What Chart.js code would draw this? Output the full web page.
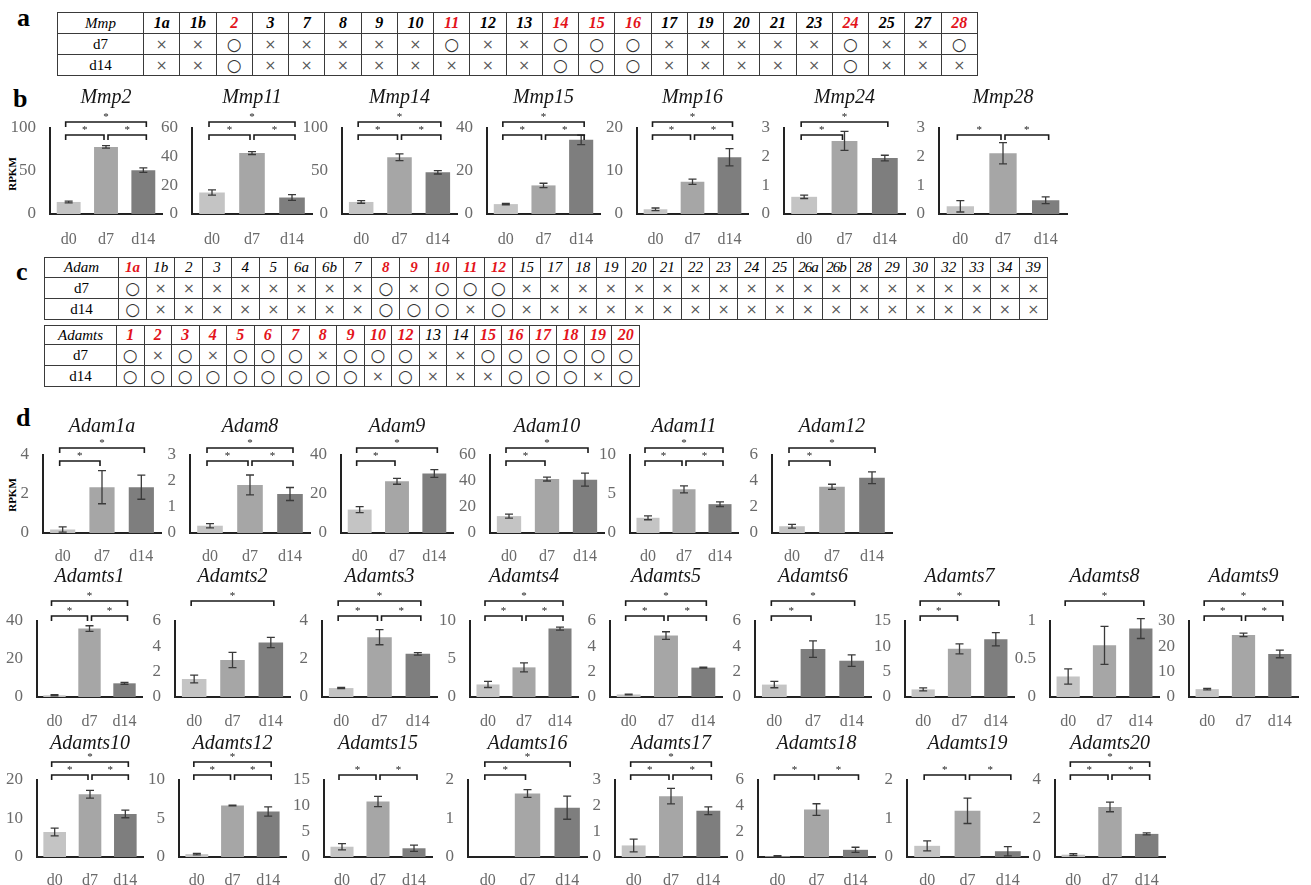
<!DOCTYPE html>
<html lang="en">
<head>
<meta charset="UTF-8">
<title>Mmp / Adam / Adamts RPKM</title>
<style>
  html, body { margin: 0; padding: 0; background: #fff; overflow: hidden; }
  body { width: 1311px; height: 885px; position: relative; font-family: "Liberation Serif", "Times New Roman", serif; }
  .panel { position: absolute; font-weight: bold; font-size: 26px; line-height: 1; }
  .rpkm { position: absolute; font-weight: bold; font-size: 11px; transform: translate(-50%, -50%) rotate(-90deg); white-space: nowrap; }
  table.grid { position: absolute; border-collapse: collapse; table-layout: fixed; }
  table.grid td { border: 1.5px solid #3a3a3a; padding: 0; text-align: center; vertical-align: middle; white-space: nowrap; overflow: visible; }
  .hd { font-style: italic; }
  .red { color: #e3131b; font-weight: bold; }
  .x { font-family: "DejaVu Sans", sans-serif; font-size: 14px; color: #555; }
  .o { font-family: "DejaVu Sans", sans-serif; font-size: 17px; color: #333; }
  canvas { position: absolute; }
</style>
<script src="https://cdn.jsdelivr.net/npm/chart.js"></script>
</head>
<body>

<div class="panel" style="left:17px; top:5px;">a</div>
<div class="panel" style="left:13px; top:86px;">b</div>
<div class="panel" style="left:16px; top:259px;">c</div>
<div class="panel" style="left:16px; top:405px;">d</div>
<div class="rpkm" style="left:12px; top:174px;">RPKM</div>
<div class="rpkm" style="left:12px; top:495px;">RPKM</div>

<script>
// ---------- data ----------
const days = ['d0', 'd7', 'd14'];

// table a : Mmp family ('o' = changed, 'x' = not changed)
const mmpCols = ['1a','1b','2','3','7','8','9','10','11','12','13','14','15','16','17','19','20','21','23','24','25','27','28'];
const mmpD7  = 'xxoxxxxxoxxoooxxxxxoxxo';
const mmpD14 = 'xxoxxxxxxxxoooxxxxxoxxx';

// table c : Adam and Adamts families
const adamCols = ['1a','1b','2','3','4','5','6a','6b','7','8','9','10','11','12','15','17','18','19','20','21','22','23','24','25','26a','26b','28','29','30','32','33','34','39'];
const adamD7  = 'oxxxxxxxxoxoooxxxxxxxxxxxxxxxxxxx';
const adamD14 = 'oxxxxxxxxoooxoxxxxxxxxxxxxxxxxxxx';
const adamtsCols = ['1','2','3','4','5','6','7','8','9','10','12','13','14','15','16','17','18','19','20'];
const adamtsD7  = 'oxoxoooxoooxxoooooo';
const adamtsD14 = 'oooooooooxoxxxoooxo';

// panel b : Mmp RPKM (d0, d7, d14) with error
const mmpNames = ['Mmp2','Mmp11','Mmp14','Mmp15','Mmp16','Mmp24','Mmp28'];
const mmpMean  = [[14,78,51],[15,42.5,11.5],[14,66,48.5],[4.6,13.3,34.5],[1.1,7.5,13.2],[0.6,2.55,1.95],[0.27,2.12,0.48]];
const mmpErr   = [[1,1.5,2.7],[1.8,1,2],[1.5,4,2],[0.3,1,2.2],[0.3,0.6,2],[0.06,0.33,0.1],[0.2,0.37,0.12]];
const mmpMax   = [100,60,100,40,20,3,3];
const mmpStep  = [50,20,50,20,10,1,1];
const mmpSig   = [['01','12','02'],['01','12','02'],['01','12','02'],['01','12','02'],['01','12','02'],['01','02'],['01','12']];

// panel d, first row : Adam
const adamNames = ['Adam1a','Adam8','Adam9','Adam10','Adam11','Adam12'];
const adamMean  = [[0.18,2.35,2.35],[0.28,1.85,1.5],[12,26.5,30.5],[13,41.5,41],[1.95,5.6,3.7],[0.52,3.55,4.25]];
const adamErr   = [[0.13,0.85,0.62],[0.08,0.38,0.25],[1.5,1.5,2],[1.5,1.5,5],[0.25,0.45,0.3],[0.15,0.2,0.45]];
const adamMax   = [4,3,40,60,10,6];
const adamStep  = [2,1,20,20,5,2];
const adamSig   = [['01','02'],['01','12','02'],['01','02'],['01','02'],['01','12','02'],['01','02']];

// panel d, second row : Adamts1-9
const ts1Names = ['Adamts1','Adamts2','Adamts3','Adamts4','Adamts5','Adamts6','Adamts7','Adamts8','Adamts9'];
const ts1Mean  = [[0.9,36,7.2],[1.42,2.92,4.3],[0.47,3.15,2.27],[1.65,3.9,9],[0.2,4.85,2.32],[0.98,3.78,2.87],[1.5,9.5,11.4],[0.27,0.68,0.9],[3.1,24.5,17]];
const ts1Err   = [[0.3,1.5,0.5],[0.3,0.6,0.4],[0.03,0.4,0.07],[0.4,0.6,0.2],[0.03,0.3,0.03],[0.25,0.65,0.45],[0.3,1,1.3],[0.1,0.25,0.13],[0.3,0.7,1.5]];
const ts1Max   = [40,6,4,10,6,6,15,1,30];
const ts1Step  = [20,2,2,5,2,2,5,0.5,10];
const ts1Sig   = [['01','12','02'],['02'],['01','12','02'],['01','12','02'],['01','12','02'],['01','02'],['01','02'],['02'],['01','12','02']];

// panel d, third row : Adamts10-20
const ts2Names = ['Adamts10','Adamts12','Adamts15','Adamts16','Adamts17','Adamts18','Adamts19','Adamts20'];
const ts2Mean  = [[6.5,16.3,11.2],[0.37,6.7,5.9],[2,10.8,1.7],[0,1.65,1.28],[0.45,2.37,1.8],[0.05,3.7,0.56],[0.29,1.2,0.15],[0.12,2.6,1.2]];
const ts2Err   = [[1,1,1],[0.1,0.05,0.6],[0.6,1,0.6],[0,0.1,0.3],[0.25,0.3,0.15],[0.05,0.45,0.2],[0.13,0.33,0.12],[0.05,0.25,0.05]];
const ts2Max   = [20,10,15,2,3,6,2,4];
const ts2Step  = [10,5,5,1,1,2,1,2];
const ts2Sig   = [['01','12','02'],['01','12','02'],['01','12'],['01','02'],['01','12','02'],['01','12'],['01','12'],['01','12','02']];

// ---------- layout ----------
const SERIF = '"Liberation Serif", "Times New Roman", serif';
const barColors = ['#c4c4c4', '#a6a6a6', '#7e7e7e'];
const darkD7 = ['Adamts6'];
const X_AXIS_H = 34;

const rowB  = { titleY: 98,  topY: 128, zeroY: 214, up: -6,  low: 7,  pad: 8 };
const rowD1 = { titleY: 427, topY: 455, zeroY: 533, up: -7,  low: 6,  pad: 6 };
const rowD2 = { titleY: 577, topY: 621, zeroY: 697, up: -20, low: -5, pad: 7 };
const rowD3 = { titleY: 744, topY: 780, zeroY: 857, up: -18, low: -5, pad: 6 };

const xB  = [[50,162],[192,312],[342,457],[487,600],[637,748],[784,905],[939,1067]];
const xD1 = [[43,161],[190,310],[341,453],[490,604],[630,738],[772,892]];
const xD2 = [[37,142],[175,290],[322,437],[470,578],[610,722],[755,871],[905,1014],[1050,1159],[1189,1298]];
const xD3 = [[37,143],[179,286],[324,432],[468,587],[615,727],[758,875],[907,1028],[1055,1165]];

// error bars + significance brackets
const marks = {
    id: 'marks',
    afterDatasetsDraw(chart, args, opts) {
        const ctx = chart.ctx;
        const meta = chart.getDatasetMeta(0);
        const ys = chart.scales.y;
        const vals = chart.data.datasets[0].data;
        const cx = meta.data.map(b => b.x);
        ctx.save();
        ctx.strokeStyle = '#3a3a3a';
        ctx.lineWidth = 1.3;
        vals.forEach((v, i) => {
            const e = opts.err[i];
            if (!e) return;
            const a = ys.getPixelForValue(v - e), b = ys.getPixelForValue(v + e);
            ctx.beginPath();
            ctx.moveTo(cx[i], a); ctx.lineTo(cx[i], b);
            ctx.moveTo(cx[i] - 4, a); ctx.lineTo(cx[i] + 4, a);
            ctx.moveTo(cx[i] - 4, b); ctx.lineTo(cx[i] + 4, b);
            ctx.stroke();
        });
        const top = chart.chartArea.top;
        ctx.strokeStyle = '#1a1a1a';
        ctx.fillStyle = '#1a1a1a';
        ctx.lineWidth = 1.6;
        ctx.font = '11px ' + SERIF;
        ctx.textAlign = 'center';
        ctx.textBaseline = 'bottom';
        opts.sig.forEach(p => {
            const i = +p[0], j = +p[1];
            const ly = top + (p === '02' ? opts.up : opts.low);
            const xa = cx[i] + (i === 1 ? 2 : -3);
            const xb = cx[j] + (j === 1 ? -2 : 3);
            ctx.beginPath();
            ctx.moveTo(xa, ly + 5); ctx.lineTo(xa, ly); ctx.lineTo(xb, ly); ctx.lineTo(xb, ly + 5);
            ctx.stroke();
            ctx.fillText('*', (xa + xb) / 2, ly + 1);
        });
        ctx.restore();
    }
};

function addChart(name, mean, err, max, step, sig, xr, row) {
    const yw = 38, padR = 4;
    const left = xr[0] - yw;
    const top = row.titleY - 12;
    const w = xr[1] - left + padR;
    const h = row.zeroY + X_AXIS_H - top;
    const cv = document.createElement('canvas');
    cv.width = w; cv.height = h;
    cv.style.left = left + 'px';
    cv.style.top = top + 'px';
    cv.style.width = w + 'px';
    cv.style.height = h + 'px';
    document.body.appendChild(cv);

    const colors = barColors.slice();
    if (darkD7.includes(name)) colors[1] = barColors[2];

    new Chart(cv, {
        type: 'bar',
        data: {
            labels: days,
            datasets: [{
                data: mean,
                backgroundColor: colors,
                borderWidth: 0,
                barPercentage: 0.64,
                categoryPercentage: 1
            }]
        },
        options: {
            responsive: false,
            animation: false,
            devicePixelRatio: 1,
            layout: { padding: { top: 0, right: padR, bottom: 0, left: 0 } },
            plugins: {
                legend: { display: false },
                tooltip: { enabled: false },
                title: {
                    display: true,
                    text: name,
                    fullSize: false,
                    color: '#151515',
                    font: { family: SERIF, size: 20, style: 'italic', weight: 'normal', lineHeight: 1.2 },
                    padding: { top: 0, bottom: row.topY - row.titleY - 12 }
                },
                marks: { err: err, sig: sig, up: row.up, low: row.low }
            },
            scales: {
                x: {
                    grid: { display: false },
                    border: { color: '#222', width: 2 },
                    ticks: { color: '#6a6a6a', font: { family: SERIF, size: 16 }, padding: row.pad, maxRotation: 0, autoSkip: false },
                    afterFit(s) { s.height = X_AXIS_H; }
                },
                y: {
                    min: 0,
                    max: max,
                    grid: { display: false },
                    border: { color: '#222', width: 2 },
                    ticks: {
                        stepSize: step, color: '#6a6a6a', font: { family: SERIF, size: 17 }, padding: 6,
                        callback: v => String(+v.toFixed(2))
                    },
                    afterFit(s) { s.width = yw; }
                }
            }
        },
        plugins: [marks]
    });
}

function addRow(names, means, errs, maxes, steps, sigs, xs, row) {
    names.forEach((n, i) => addChart(n, means[i], errs[i], maxes[i], steps[i], sigs[i], xs[i], row));
}

addRow(mmpNames, mmpMean, mmpErr, mmpMax, mmpStep, mmpSig, xB, rowB);
addRow(adamNames, adamMean, adamErr, adamMax, adamStep, adamSig, xD1, rowD1);
addRow(ts1Names, ts1Mean, ts1Err, ts1Max, ts1Step, ts1Sig, xD2, rowD2);
addRow(ts2Names, ts2Mean, ts2Err, ts2Max, ts2Step, ts2Sig, xD3, rowD3);

// ---------- tables ----------
function buildTable(label, cols, d7, d14, box) {
    const t = document.createElement('table');
    t.className = 'grid';
    t.style.left = box.left + 'px';
    t.style.top = box.top + 'px';
    t.style.width = box.width + 'px';
    const cg = document.createElement('colgroup');
    const c0 = document.createElement('col');
    c0.style.width = box.first + 'px';
    cg.appendChild(c0);
    cols.forEach(() => cg.appendChild(document.createElement('col')));
    t.appendChild(cg);

    const hr = t.insertRow();
    hr.style.height = box.rowH + 'px';
    const lab = hr.insertCell();
    lab.textContent = label;
    lab.className = 'hd';
    lab.style.fontSize = '15px';
    cols.forEach((c, i) => {
        const td = hr.insertCell();
        td.textContent = c;
        const red = d7[i] === 'o' || d14[i] === 'o';
        td.className = 'hd' + (red ? ' red' : '');
        td.style.fontSize = box.hfs + 'px';
        if (box.bold) td.style.fontWeight = 'bold';
        if (c.length > 2) td.style.letterSpacing = '-1px';
    });
    [['d7', d7], ['d14', d14]].forEach(([name, s]) => {
        const r = t.insertRow();
        r.style.height = box.rowH + 'px';
        const l = r.insertCell();
        l.textContent = name;
        l.style.fontSize = '15px';
        cols.forEach((c, i) => {
            const td = r.insertCell();
            td.textContent = s[i] === 'o' ? '\u25CB' : '\u00D7';
            td.className = s[i] === 'o' ? 'o' : 'x';
        });
    });
    document.body.appendChild(t);
}

buildTable('Mmp', mmpCols, mmpD7, mmpD14, { left: 57, top: 12, width: 921, first: 86, rowH: 21, hfs: 16, bold: true });
buildTable('Adam', adamCols, adamD7, adamD14, { left: 44, top: 257, width: 1004, first: 74, rowH: 20, hfs: 15, bold: false });
buildTable('Adamts', adamtsCols, adamtsD7, adamtsD14, { left: 44, top: 325, width: 596, first: 72, rowH: 19, hfs: 16, bold: false });
</script>
</body>
</html>
